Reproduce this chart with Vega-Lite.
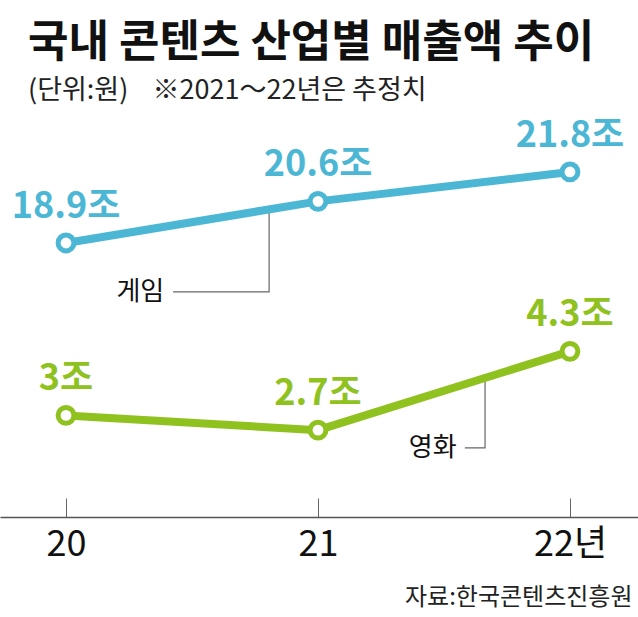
{
  "$schema": "https://vega.github.io/schema/vega-lite/v6.json",
  "width": 638,
  "height": 407,
  "autosize": {"type": "none"},
  "padding": {"top": 110, "left": 0, "right": 0, "bottom": 100},
  "background": "white",
  "title": {
    "text": "국내 콘텐츠 산업별 매출액 추이",
    "subtitle": "(단위:원)\u00a0\u00a0\u00a0\u00a0※2021～22년은 추정치",
    "anchor": "start",
    "frame": "group",
    "dx": 28,
    "offset": 6,
    "font": "Noto Sans CJK KR",
    "fontSize": 44,
    "fontWeight": "bold",
    "color": "#111111",
    "subtitleFont": "Noto Sans CJK KR",
    "subtitleFontSize": 27,
    "subtitleColor": "#222222",
    "subtitlePadding": 12
  },
  "datasets": {
    "series": [
      {"industry": "게임", "year": 20, "value": 18.9, "label": "18.9조"},
      {"industry": "게임", "year": 21, "value": 20.6, "label": "20.6조"},
      {"industry": "게임", "year": 22, "value": 21.8, "label": "21.8조"},
      {"industry": "영화", "year": 20, "value": 3, "label": "3조"},
      {"industry": "영화", "year": 21, "value": 2.7, "label": "2.7조"},
      {"industry": "영화", "year": 22, "value": 4.3, "label": "4.3조"}
    ],
    "leaders": [
      {"industry": "게임", "step": 1, "year": 20.806, "value": 20.27},
      {"industry": "게임", "step": 2, "year": 20.806, "value": 16.9},
      {"industry": "게임", "step": 3, "year": 20.425, "value": 16.9},
      {"industry": "영화", "step": 1, "year": 21.663, "value": 3.76},
      {"industry": "영화", "step": 2, "year": 21.663, "value": 2.34},
      {"industry": "영화", "step": 3, "year": 21.583, "value": 2.34}
    ],
    "tags": [
      {"industry": "게임", "year": 20.39, "value": 16.9, "name": "게임"},
      {"industry": "영화", "year": 21.55, "value": 2.34, "name": "영화"}
    ]
  },
  "encoding": {
    "x": {
      "field": "year",
      "type": "quantitative",
      "scale": {"domain": [19.738, 22.27], "nice": false, "zero": false},
      "axis": {
        "values": [20, 21, 22],
        "labelExpr": "datum.value == 22 ? '22년' : format(datum.value, 'd')",
        "grid": false,
        "labelOverlap": false,
        "labelFlush": false,
        "domainColor": "#555555",
        "domainWidth": 1.5,
        "tickColor": "#666666",
        "tickWidth": 1,
        "tickSize": -19,
        "labelFont": "'Liberation Sans Narrow', 'Noto Sans CJK KR', sans-serif",
        "labelFontSize": 36,
        "labelColor": "#111111",
        "labelPadding": 29,
        "title": "자료:한국콘텐츠진흥원",
        "titleFont": "Noto Sans CJK KR",
        "titleFontSize": 24,
        "titleFontWeight": "normal",
        "titleColor": "#222222",
        "titleAlign": "right",
        "titleAnchor": "end",
        "titleBaseline": "middle",
        "titleX": 632,
        "titleY": 80
      }
    }
  },
  "layer": [
    {
      "encoding": {
        "y": {"field": "value", "type": "quantitative", "scale": {"domain": [7.71, 24.33], "nice": false, "zero": false}, "axis": null}
      },
      "layer": [
        {
          "data": {"name": "leaders"},
          "transform": [{"filter": "datum.industry === '게임'"}],
          "mark": {"type": "line", "color": "#666666", "strokeWidth": 1.2},
          "encoding": {"order": {"field": "step", "type": "quantitative"}}
        },
        {
          "data": {"name": "series"},
          "transform": [{"filter": "datum.industry === '게임'"}],
          "mark": {"type": "line", "color": "#4BB7D4", "strokeWidth": 8}
        },
        {
          "data": {"name": "series"},
          "transform": [{"filter": "datum.industry === '게임'"}],
          "mark": {"type": "point", "shape": "circle", "filled": true, "fill": "white", "stroke": "#4BB7D4", "strokeWidth": 5, "size": 250, "opacity": 1}
        },
        {
          "data": {"name": "series"},
          "transform": [{"filter": "datum.industry === '게임'"}],
          "mark": {"type": "text", "dy": -36, "baseline": "middle", "fontSize": 36, "fontWeight": "bold", "font": "'Liberation Sans Narrow', 'Noto Sans CJK KR', sans-serif", "color": "#4BB7D4"},
          "encoding": {"text": {"field": "label"}}
        },
        {
          "data": {"name": "tags"},
          "transform": [{"filter": "datum.industry === '게임'"}],
          "mark": {"type": "text", "align": "right", "baseline": "middle", "fontSize": 26, "font": "Noto Sans CJK KR", "color": "#111111"},
          "encoding": {"text": {"field": "name"}}
        }
      ]
    },
    {
      "encoding": {
        "y": {"field": "value", "type": "quantitative", "scale": {"domain": [0.939, 9.195], "nice": false, "zero": false}, "axis": null}
      },
      "layer": [
        {
          "data": {"name": "leaders"},
          "transform": [{"filter": "datum.industry === '영화'"}],
          "mark": {"type": "line", "color": "#666666", "strokeWidth": 1.2},
          "encoding": {"order": {"field": "step", "type": "quantitative"}}
        },
        {
          "data": {"name": "series"},
          "transform": [{"filter": "datum.industry === '영화'"}],
          "mark": {"type": "line", "color": "#8FC21F", "strokeWidth": 8}
        },
        {
          "data": {"name": "series"},
          "transform": [{"filter": "datum.industry === '영화'"}],
          "mark": {"type": "point", "shape": "circle", "filled": true, "fill": "white", "stroke": "#8FC21F", "strokeWidth": 5, "size": 250, "opacity": 1}
        },
        {
          "data": {"name": "series"},
          "transform": [{"filter": "datum.industry === '영화'"}],
          "mark": {"type": "text", "dy": -36, "baseline": "middle", "fontSize": 36, "fontWeight": "bold", "font": "'Liberation Sans Narrow', 'Noto Sans CJK KR', sans-serif", "color": "#8FC21F"},
          "encoding": {"text": {"field": "label"}}
        },
        {
          "data": {"name": "tags"},
          "transform": [{"filter": "datum.industry === '영화'"}],
          "mark": {"type": "text", "align": "right", "baseline": "middle", "fontSize": 26, "font": "Noto Sans CJK KR", "color": "#111111"},
          "encoding": {"text": {"field": "name"}}
        }
      ]
    }
  ],
  "resolve": {"scale": {"y": "independent"}},
  "config": {"view": {"stroke": null}}
}
